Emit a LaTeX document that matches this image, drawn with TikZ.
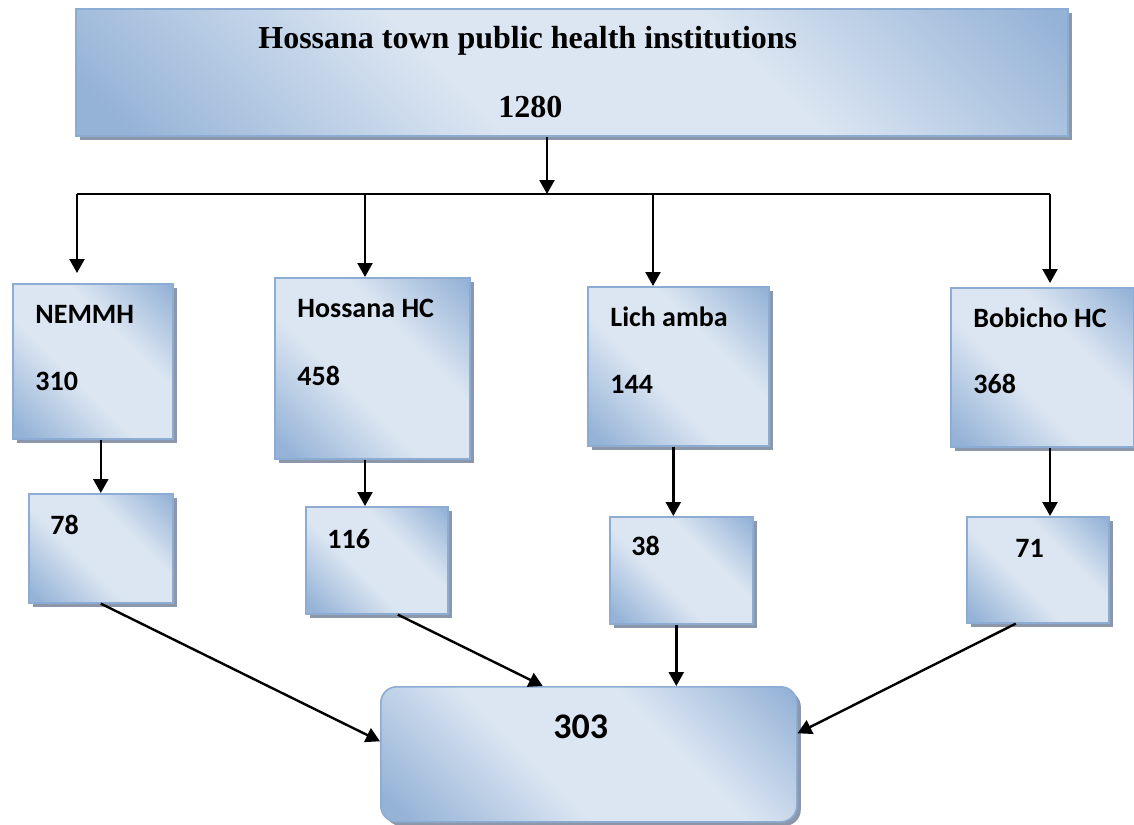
\documentclass[tikz,border=0pt]{standalone}
\usepackage{fontspec}
\setmainfont{Liberation Serif}
\newfontfamily\carlito{Carlito}
\usetikzlibrary{arrows.meta,shadows}

\definecolor{boxdark}{RGB}{149,179,215}
\definecolor{boxlight}{RGB}{220,230,242}
\definecolor{boxline}{RGB}{141,172,212}
\definecolor{boxshadow}{RGB}{140,152,170}

\pgfdeclarehorizontalshading{boxfade}{100bp}{color(0bp)=(boxdark); color(18bp)=(boxdark); color(42bp)=(boxlight); color(62bp)=(boxlight); color(84bp)=(boxdark); color(100bp)=(boxdark)}

\tikzset{
    box/.style={draw=boxline, line width=0.8pt, shading=boxfade, shading angle=45,
        anchor=north west, inner sep=0pt,
        drop shadow={shadow xshift=2pt, shadow yshift=-2pt, fill=boxshadow, opacity=1}},
    boxtext/.style={anchor=base west, inner sep=0pt, font=\carlito\bfseries\fontsize{14}{16}\selectfont},
    toptext/.style={anchor=base west, inner sep=0pt, font=\bfseries\fontsize{16}{18}\selectfont},
    arr/.style={-{Triangle[length=7pt,width=7.5pt]}, line width=1.2pt},
}

\begin{document}
\begin{tikzpicture}[x=0.5pt, y=-0.5pt]

    \useasboundingbox (0,0) rectangle (1134,824);

    % Top box
    \node[box, minimum width=496pt, minimum height=63.5pt] (top) at (75,8) {};
    \node[toptext] (top-name) at (258,49) {Hossana town public health institutions};
    \node[toptext] (top-num) at (498,118) {1280};

    % Branch line
    \coordinate (split) at (547,194);
    \coordinate (d1) at (77,194);
    \coordinate (d2) at (365,194);
    \coordinate (d3) at (653,194);
    \coordinate (d4) at (1050,194);

    % Institutions
    \node[box, minimum width=80pt, minimum height=77.5pt] (nemmh) at (12,283) {};
    \node[boxtext] (nemmh-name) at (35,323) {NEMMH};
    \node[boxtext] (nemmh-num) at (35,390) {310};

    \node[box, minimum width=97.5pt, minimum height=90.5pt] (hossana) at (274,277) {};
    \node[boxtext] (hossana-name) at (297,317) {Hossana HC};
    \node[boxtext] (hossana-num) at (297,385) {458};

    \node[box, minimum width=90.5pt, minimum height=79.5pt] (lich) at (587,286) {};
    \node[boxtext] (lich-name) at (610,326) {Lich amba};
    \node[boxtext] (lich-num) at (610,393) {144};

    \node[box, minimum width=91.5pt, minimum height=79.5pt] (bobicho) at (950,287) {};
    \node[boxtext] (bobicho-name) at (973,327) {Bobicho HC};
    \node[boxtext] (bobicho-num) at (973,393) {368};

    % Samples
    \node[box, minimum width=72pt, minimum height=54.5pt] (s78) at (28,493) {};
    \node[boxtext] (s78-num) at (50,534) {78};

    \node[box, minimum width=71pt, minimum height=53.5pt] (s116) at (305,506) {};
    \node[boxtext] (s116-num) at (327,548) {116};

    \node[box, minimum width=71.5pt, minimum height=53.5pt] (s38) at (609,516) {};
    \node[boxtext] (s38-num) at (631,555) {38};

    \node[box, minimum width=71pt, minimum height=53pt] (s71) at (966,516) {};
    \node[boxtext] (s71-num) at (1015,557) {71};

    % Total
    \node[box, rounded corners=8pt, minimum width=208pt, minimum height=67.5pt] (total) at (380,686) {};
    \node[boxtext, font=\carlito\bfseries\fontsize{18}{20}\selectfont] (total-num) at (553,738) {303};

    % Arrows
    \draw[arr] (split |- top.south) -- (split);
    \draw[line width=1.2pt] (d1) -- (d4);
    \draw[arr, shorten >=5pt] (d1) -- (d1 |- nemmh.north);
    \draw[arr] (d2) -- (d2 |- hossana.north);
    \draw[arr] (d3) -- (d3 |- lich.north);
    \draw[arr, shorten >=2pt] (d4) -- (d4 |- bobicho.north);

    \draw[arr] (nemmh.south -| s78.north) -- (s78.north);
    \draw[arr] (hossana.south -| d2) -- (s116.north -| d2);
    \draw[arr] ([xshift=-2.5pt]lich.south) -- ([xshift=-2.5pt]lich.south |- s38.north);
    \draw[arr] (bobicho.south -| d4) -- (s71.north -| d4);

    \draw[arr] (s78.south) -- ([yshift=6.5pt]total.west);
    \draw[arr] ([xshift=10.5pt]s116.south) -- ([xshift=-23pt]total.north);
    \draw[arr] ([xshift=-2.5pt]s38.south) -- ([xshift=-2.5pt]s38.south |- total.north);
    \draw[arr] ([xshift=-11pt]s71.south) -- ([yshift=10.5pt]total.east);

\end{tikzpicture}
\end{document}
